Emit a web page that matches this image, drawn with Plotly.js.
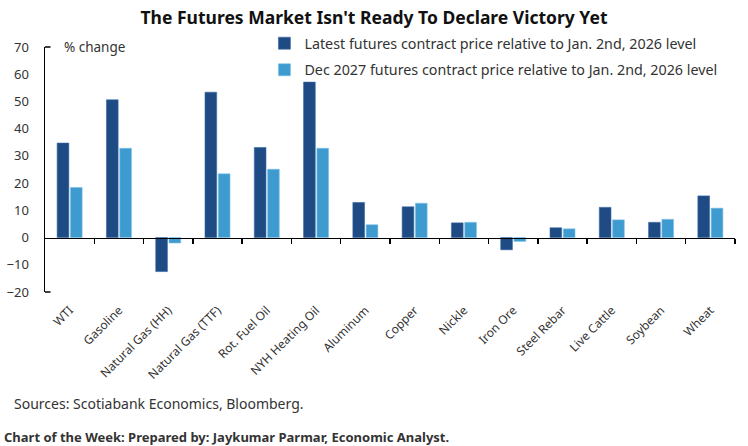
<!DOCTYPE html>
<html>
<head>
<meta charset="utf-8">
<script src="https://cdn.plot.ly/plotly-3.0.1.min.js"></script>
<style>html,body{margin:0;padding:0;background:#fff;}#chart{width:748px;height:446px;}</style>
</head>
<body>
<div id="chart"></div>
<script>
const categories = ["WTI","Gasoline","Natural Gas (HH)","Natural Gas (TTF)","Rot. Fuel Oil","NYH Heating Oil","Aluminum","Copper","Nickle","Iron Ore","Steel Rebar","Live Cattle","Soybean","Wheat"];
const latestFutures = [34.7, 50.6, -12.5, 53.4, 33.1, 57.1, 12.9, 11.3, 5.4, -4.5, 3.6, 11.1, 5.6, 15.3];
const dec2027Futures = [18.4, 32.8, -2.0, 23.4, 25.1, 32.8, 4.7, 12.6, 5.6, -1.4, 3.2, 6.5, 6.7, 10.8];
const seriesNames = ["Latest futures contract price relative to Jan. 2nd, 2026 level","Dec 2027 futures contract price relative to Jan. 2nd, 2026 level"];
const yTicks = [-20,-10,0,10,20,30,40,50,60,70];
const boundaryTicks = [0.5,1.5,2.5,3.5,4.5,5.5,6.5,7.5,8.5,9.5,10.5,11.5,12.5,13.5];

const FONT = "Noto Sans, sans-serif";
const traces = [
  {type:"bar", x:categories, y:latestFutures, name:seriesNames[0], legendgroup:"g1", marker:{color:"#1f4b84", line:{color:"#3a6aa6", width:0.6}}},
  {type:"bar", x:categories, y:dec2027Futures, name:seriesNames[1], legendgroup:"g2", marker:{color:"#3d9bd0", line:{color:"#7ec0e6", width:0.6}}},
  {type:"scatter", x:[], y:[], xaxis:"x2", yaxis:"y", showlegend:false, hoverinfo:"skip"}
];
const layout = {
  width:748, height:446,
  margin:{l:45, r:13, t:47, b:154},
  paper_bgcolor:"#fff", plot_bgcolor:"#fff",
  font:{family:FONT, color:"#333", size:12},
  title:{text:"<b>The Futures Market Isn't Ready To Declare Victory Yet</b>", x:0.5, xref:"container", xanchor:"center", y:0.96, yref:"container", yanchor:"middle", font:{family:FONT, size:17.5, color:"#111"}},
  barmode:"group", bargap:0.46, bargroupgap:0.12,
  xaxis:{type:"category", range:[-0.5,13.5], showline:false, ticks:"", tickangle:-45, showgrid:false, zeroline:false, ticklabelstandoff:8, tickfont:{family:FONT, size:12, color:"#333"}, automargin:false},
  xaxis2:{overlaying:"x", anchor:"free", position:20/90, range:[-0.5,13.5], showline:true, linecolor:"#000", linewidth:1.5, ticks:"outside", ticklen:5, tickcolor:"#000", tickwidth:1.5, tickmode:"array", tickvals:boundaryTicks, showticklabels:false, showgrid:false, zeroline:false},
  yaxis:{range:[-20,70], tickmode:"array", tickvals:yTicks, showline:true, linecolor:"#000", linewidth:1.5, ticks:"", showgrid:false, zeroline:false, ticklabelstandoff:12, tickfont:{family:FONT, size:13, color:"#333"}, automargin:false},
  legend:{x:0.318, xanchor:"left", y:1.08, yanchor:"top", bgcolor:"rgba(0,0,0,0)", font:{family:FONT, size:14.3, color:"#333"}, tracegroupgap:5, itemwidth:30, traceorder:"grouped"},
  shapes:[
    {type:"line", xref:"paper", yref:"paper", x0:0, x1:0.008, y0:1, y1:1, line:{color:"#000", width:1.5}},
    {type:"line", xref:"paper", yref:"paper", x0:0, x1:0.008, y0:0, y1:0, line:{color:"#000", width:1.5}}
  ],
  annotations:[
    {text:"% change", xref:"paper", yref:"paper", x:0.025, y:1.0, xanchor:"left", yanchor:"middle", showarrow:false, font:{family:FONT, size:13.5, color:"#333"}},
    {text:"Sources: Scotiabank Economics, Bloomberg.", xref:"paper", yref:"paper", x:-0.048, y:-0.455, xanchor:"left", yanchor:"middle", showarrow:false, font:{family:FONT, size:14, color:"#333"}},
    {text:"<b>Chart of the Week: Prepared by: Jaykumar Parmar, Economic Analyst.</b>", xref:"paper", yref:"paper", x:-0.063, y:-0.59, xanchor:"left", yanchor:"middle", showarrow:false, font:{family:FONT, size:13, color:"#333"}}
  ],
  showlegend:true
};
Plotly.newPlot("chart", traces, layout, {displayModeBar:false, staticPlot:true});
</script>
</body>
</html>
